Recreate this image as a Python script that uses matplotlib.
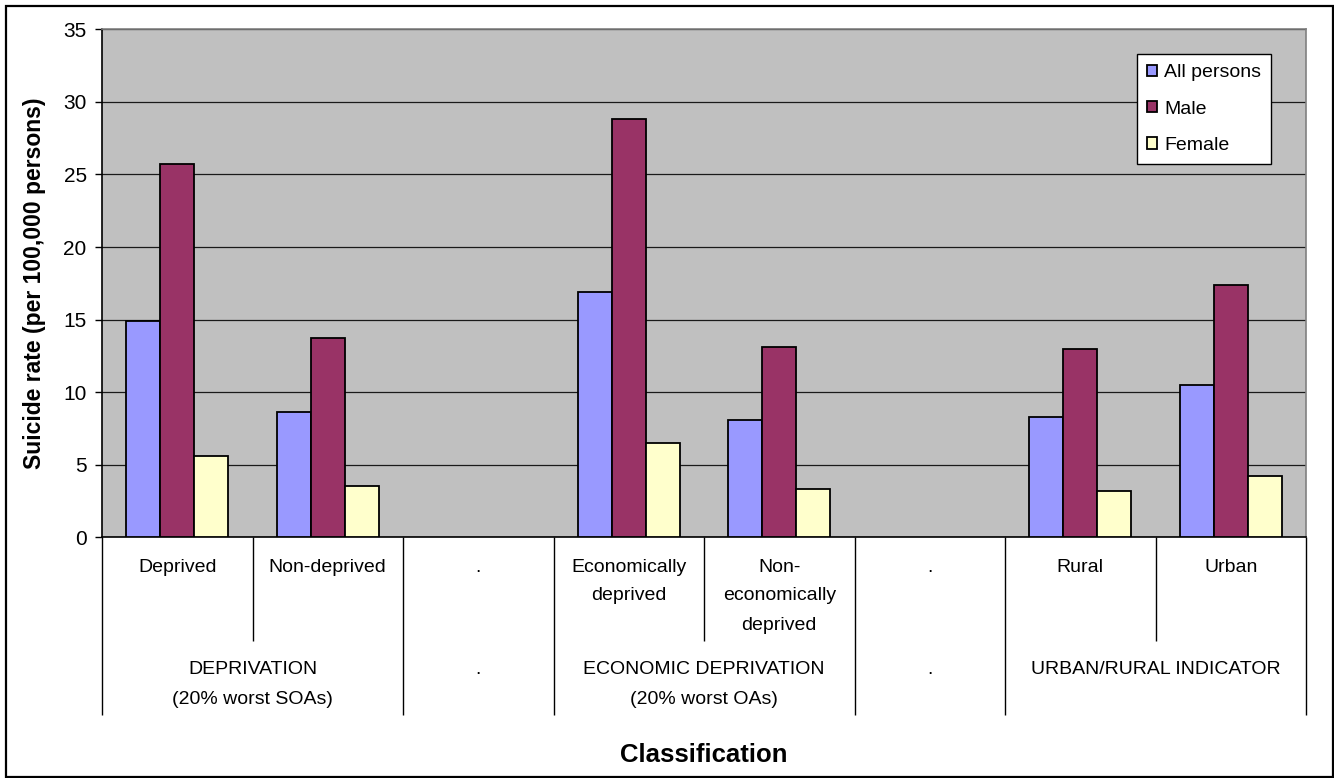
import matplotlib
matplotlib.use("Agg")
import matplotlib.pyplot as plt
import numpy as np
from matplotlib.patches import Rectangle

plt.rcParams['font.family'] = ['Liberation Sans', 'DejaVu Sans']

# Inner category labels (one per slot, "." slots are spacers)
categories = ["Deprived", "Non-deprived", ".", "Economically\ndeprived",
              "Non-\neconomically\ndeprived", ".", "Rural", "Urban"]
# Outer grouping: (label, first slot, last slot)
group_labels = ["DEPRIVATION\n(20% worst SOAs)", ".",
                "ECONOMIC DEPRIVATION\n(20% worst OAs)", ".",
                "URBAN/RURAL INDICATOR"]
group_spans = [(0, 1), (2, 2), (3, 4), (5, 5), (6, 7)]

series_names = ["All persons", "Male", "Female"]
all_persons = [14.9, 8.6, np.nan, 16.9, 8.1, np.nan, 8.3, 10.5]
male = [25.7, 13.7, np.nan, 28.8, 13.1, np.nan, 13.0, 17.4]
female = [5.6, 3.5, np.nan, 6.5, 3.3, np.nan, 3.2, 4.2]

y_ticks = [0, 5, 10, 15, 20, 25, 30, 35]

colors = ["#9999FF", "#993366", "#FFFFCC"]

W, H = 1334, 778
fig = plt.figure(figsize=(W / 100, H / 100), dpi=100)
ax_l, ax_r, ax_t, ax_b = 102, 1306, 29.3, 537.3
ax = fig.add_axes([ax_l / W, 1 - ax_b / H, (ax_r - ax_l) / W, (ax_b - ax_t) / H])
ax_h = ax_b - ax_t

def ypx(px):
    # pixel row below the axes -> axes-fraction y
    return -(px - ax_b) / ax_h

ax.set_facecolor("#C0C0C0")
x = np.arange(len(categories))
bw = 0.226
for k, (vals, name, c) in enumerate(zip([all_persons, male, female], series_names, colors)):
    ax.bar(x + (k - 1) * bw, vals, width=bw, color=c, edgecolor="black",
           linewidth=1.3, label=name, zorder=3)

ax.set_xlim(-0.5, len(categories) - 0.5)
ax.set_ylim(0, 35)
ax.set_yticks(y_ticks)
ax.set_yticklabels([str(t) for t in y_ticks], fontsize=15)
ax.tick_params(axis="y", direction="out", length=5, width=1, pad=6, colors="black")
ax.set_xticks([])
ax.yaxis.grid(True, color="#1a1a1a", linewidth=0.9, zorder=0)
ax.set_axisbelow(True)

for s in ["top", "right"]:
    ax.spines[s].set_color("#808080")
    ax.spines[s].set_linewidth(1.2)
for s in ["left", "bottom"]:
    ax.spines[s].set_color("black")
    ax.spines[s].set_linewidth(1.2)

ax.set_ylabel("Suicide rate (per 100,000 persons)", fontsize=16.5, fontweight="bold")
ax.yaxis.label.set_va("center")
ax.yaxis.set_label_coords((35 - ax_l) / (ax_r - ax_l), 0.5)

# Category axis: separators and labels beneath the plot
trans = ax.get_xaxis_transform()
inner_bottom = ypx(641)
outer_bottom = ypx(715)
outer_edges = set()
for a, b in group_spans:
    outer_edges.add(a - 0.5)
    outer_edges.add(b + 0.5)
for i in range(len(categories) + 1):
    xe = i - 0.5
    yb = outer_bottom if xe in outer_edges else inner_bottom
    ax.plot([xe, xe], [0, yb], transform=trans, color="black", linewidth=1.0,
            clip_on=False, solid_capstyle="butt")

line_gap = 29
for i, lab in enumerate(categories):
    for j, line in enumerate(lab.split("\n")):
        ax.text(i, ypx(567 + j * line_gap), line, transform=trans, ha="center",
                va="center", fontsize=14)

for lab, (a, b) in zip(group_labels, group_spans):
    for j, line in enumerate(lab.split("\n")):
        ax.text((a + b) / 2, ypx(670 + j * line_gap), line, transform=trans,
                ha="center", va="center", fontsize=14)

ax.text(0.5, ypx(755), "Classification", transform=ax.transAxes, ha="center",
        va="center", fontsize=18.5, fontweight="bold")

leg = ax.legend(loc="upper left",
                bbox_to_anchor=((1137 - ax_l) / (ax_r - ax_l), (ax_b - 54) / ax_h),
                borderaxespad=0, fontsize=14, frameon=True, fancybox=False,
                edgecolor="black", facecolor="white", framealpha=1,
                handlelength=0.52, handleheight=0.52, handletextpad=0.35,
                labelspacing=1.0, borderpad=0.52)
leg.get_frame().set_linewidth(1.0)
leg.set_zorder(5)

# Chart border
fig.patches.append(Rectangle((6 / W, 1 / H), (1333 - 6) / W, (777 - 6) / H,
                             transform=fig.transFigure, fill=False,
                             edgecolor="black", linewidth=1.6))

fig.savefig("out.png", dpi=100)
